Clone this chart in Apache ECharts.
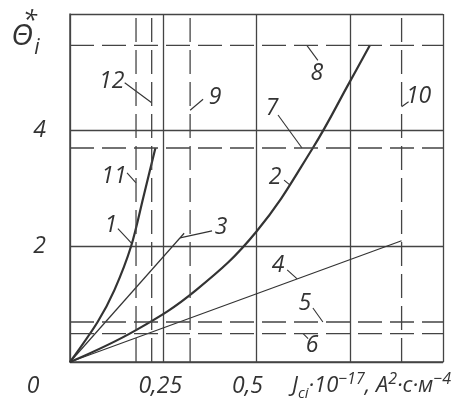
<!DOCTYPE html>
<html>
<head>
<meta charset="utf-8">
<script src="https://cdn.jsdelivr.net/npm/echarts@6/dist/echarts.min.js"></script>
<style>
  html, body { margin: 0; padding: 0; background: #fff; }
  #chart { width: 469px; height: 399px; }
</style>
</head>
<body>
<div id="chart"></div>
<script>
// curve 1 and 2 (thick, curved), 3 and 4 (thin, straight)
var curve1X = [0, 0.074, 0.119, 0.164, 0.197, 0.229];
var curve1Y = [0, 0.69, 1.24, 2.0, 2.85, 3.69];
var curve2X = [0, 0.177, 0.338, 0.5, 0.651, 0.75, 0.804];
var curve2Y = [0, 0.55, 1.24, 2.25, 3.69, 4.83, 5.46];
var curve3X = [0, 0.306];
var curve3Y = [0, 2.22];
var curve4X = [0, 0.889];
var curve4Y = [0, 2.09];

// dashed reference levels: 5, 6, 7, 8 (horizontal) and 9, 10, 11, 12 (vertical)
var hLevelNames = ['5', '6', '7', '8'];
var hLevels = [0.69, 0.49, 3.69, 5.46];
var vLevelNames = ['9', '10', '11', '12'];
var vLevels = [0.322, 0.889, 0.177, 0.219];

var xTickLabels = { 0: '0', 0.25: '0,25', 0.5: '0,5' };
var yTickLabels = { 2: '2', 4: '4' };

// curve numbers: anchor on the line (data units)
var noteText = ['1', '2', '3', '4', '5', '6', '7', '8', '9', '10', '11', '12'];
var noteAnchorX = [0.166, 0.59, 0.295, 0.609, 0.678, 0.625, 0.622, 0.635, 0.322, 0.889, 0.177, 0.219];
var noteAnchorY = [2.04, 3.05, 2.14, 1.432, 0.69, 0.49, 3.69, 5.46, 4.34, 4.40, 3.09, 4.47];

// label / leader placement relative to the anchor, px
var noteOffset = [[-21, -18], [-15, -8], [41, -10], [-19, -13], [-18, -19], [9, 12],
                  [-30, -40], [10, 28], [25, -13], [17, -10], [-22, -6], [-40, -21]];
var leaderStart = [[-14, -15], [-6, -5], [32, -7], [-10, -9], [-10, -14], [5, 5],
                   [-24, -33], [11, 15], [13, -11], [7, -5], [-9, -10], [-27, -20]];

var INK = '#333';
var FONT = 'italic 400 23px "Open Sans"';
var LABEL = { fontFamily: 'Open Sans', fontStyle: 'italic', fontWeight: 400, fontSize: 23, color: INK };

function pairs(xs, ys) {
    return xs.map(function (x, i) { return [x, ys[i]]; });
}

var series = [];
series.push({ name: '1', type: 'line', data: pairs(curve1X, curve1Y), smooth: 0.3, showSymbol: false,
    lineStyle: { color: INK, width: 2.2 } });
series.push({ name: '2', type: 'line', data: pairs(curve2X, curve2Y), smooth: 0.4, showSymbol: false,
    lineStyle: { color: INK, width: 2.2 } });
series.push({ name: '3', type: 'line', data: pairs(curve3X, curve3Y), showSymbol: false,
    lineStyle: { color: INK, width: 1.2 } });
series.push({ name: '4', type: 'line', data: pairs(curve4X, curve4Y), showSymbol: false,
    lineStyle: { color: INK, width: 1.2 } });
hLevels.forEach(function (v, i) {
    series.push({ name: hLevelNames[i], type: 'line', data: [[0, v], [1, v]], showSymbol: false,
        lineStyle: { color: '#444', width: 1.3, type: [24, 8] } });
});
vLevels.forEach(function (v, i) {
    series.push({ name: vLevelNames[i], type: 'line', data: [[v, 0], [v, 6]], showSymbol: false,
        lineStyle: { color: '#444', width: 1.3, type: [24, 8] } });
});

var chart = echarts.init(document.getElementById('chart'), null, { renderer: 'canvas' });
chart.setOption({
    backgroundColor: '#fff',
    animation: false,
    grid: { left: 70, top: 14, right: 26, bottom: 37 },
    xAxis: {
        type: 'value', min: 0, max: 1, interval: 0.25,
        axisLine: { show: true, lineStyle: { color: '#444', width: 1.5 } },
        axisTick: { show: false },
        splitLine: { show: true, lineStyle: { color: '#444', width: 1.3 } },
        axisLabel: {
            margin: 13,
            formatter: function (v) {
                var t = xTickLabels[v];
                if (!t) return '';
                return v === 0 ? '{o|' + t + '}' : (v === 0.25 ? '{q|' + t + '}' : '{h|' + t + '}');
            },
            rich: {
                o: Object.assign({ padding: [0, 74, 0, 0] }, LABEL),
                q: Object.assign({ padding: [0, 6, 0, 0] }, LABEL),
                h: Object.assign({ padding: [0, 18, 0, 0] }, LABEL)
            }
        }
    },
    yAxis: {
        type: 'value', min: 0, max: 6, interval: 2,
        axisLine: { show: true, lineStyle: { color: '#444', width: 1.5 } },
        axisTick: { show: false },
        splitLine: { show: true, lineStyle: { color: '#444', width: 1.3 } },
        axisLabel: Object.assign({
            margin: 24,
            formatter: function (v) { return yTickLabels[v] || ''; }
        }, LABEL)
    },
    series: series
});

// curve numbers with leader lines, placed from the axes' own scale
var graphics = [];
noteText.forEach(function (t, i) {
    var p = chart.convertToPixel({ gridIndex: 0 }, [noteAnchorX[i], noteAnchorY[i]]);
    graphics.push({
        type: 'line', silent: true,
        shape: { x1: p[0] + leaderStart[i][0], y1: p[1] + leaderStart[i][1], x2: p[0], y2: p[1] },
        style: { stroke: INK, lineWidth: 1.1 }
    });
    graphics.push({
        type: 'text', silent: true,
        x: p[0] + noteOffset[i][0], y: p[1] + noteOffset[i][1],
        style: { text: t, font: FONT, fill: INK, align: 'center', verticalAlign: 'middle' }
    });
});

// axis titles
graphics.push({
    type: 'text', silent: true, x: 22, y: 36,
    style: { text: 'Θ', font: 'italic 400 30px "Open Sans"', fill: INK, align: 'center', verticalAlign: 'middle' }
});
graphics.push({
    type: 'text', silent: true, x: 30, y: 22,
    style: { text: '*', font: 'italic 400 26px "Open Sans"', fill: INK, align: 'center', verticalAlign: 'middle' }
});
graphics.push({
    type: 'text', silent: true, x: 37, y: 48,
    style: { text: 'i', font: 'italic 400 21px "Open Sans"', fill: INK, align: 'center', verticalAlign: 'middle' }
});
graphics.push({
    type: 'text', silent: true, x: 292, y: 386,
    style: {
        text: '{n|J}{s|ci}{n|·10}{p|−17}{n|, A}{p|2}{n|·с·м}{p|−4}',
        align: 'left', verticalAlign: 'middle',
        rich: {
            n: { font: 'italic 400 22px "Open Sans"', fill: INK, lineHeight: 30, verticalAlign: 'middle' },
            s: { font: 'italic 400 15px "Open Sans"', fill: INK, lineHeight: 30, verticalAlign: 'bottom' },
            p: { font: 'italic 400 16px "Open Sans"', fill: INK, lineHeight: 30, verticalAlign: 'top' }
        }
    }
});
chart.setOption({ graphic: graphics });
</script>
</body>
</html>
